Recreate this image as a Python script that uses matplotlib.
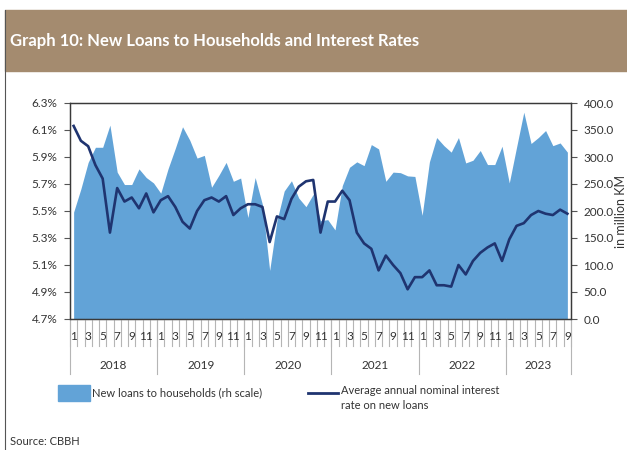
import numpy as np
import matplotlib.pyplot as plt
from matplotlib.patches import Rectangle
from matplotlib.lines import Line2D
from matplotlib.ticker import FuncFormatter

plt.rcParams['font.family'] = ['Lato', 'DejaVu Sans']

years = ["2018", "2019", "2020", "2021", "2022", "2023"]
months_per_year = [12, 12, 12, 12, 12, 9]

# new loans to households, million KM (Jan 2018 - Sep 2023)
new_loans = [198, 241, 290, 318, 318, 359, 272, 249, 249, 278, 262, 252,
             233, 278, 316, 356, 331, 298, 303, 244, 266, 290, 255, 261,
             188, 262, 212, 90, 182, 237, 256, 224, 208, 231, 182, 184,
             165, 247, 281, 291, 284, 323, 315, 255, 272, 271, 265, 264,
             192, 291, 336, 321, 309, 336, 289, 294, 312, 286, 286, 320,
             252, 318, 383, 325, 336, 349, 321, 326, 309]

# average annual nominal interest rate on new loans, %
interest_rate = [6.13, 6.02, 5.98, 5.84, 5.74, 5.34, 5.67, 5.57, 5.60, 5.52, 5.63, 5.49,
                 5.58, 5.61, 5.53, 5.42, 5.37, 5.50, 5.58, 5.60, 5.57, 5.61, 5.47, 5.52,
                 5.55, 5.55, 5.53, 5.27, 5.46, 5.44, 5.59, 5.68, 5.72, 5.73, 5.34, 5.57,
                 5.57, 5.65, 5.58, 5.34, 5.26, 5.22, 5.06, 5.17, 5.10, 5.04, 4.92, 5.01,
                 5.01, 5.06, 4.95, 4.95, 4.94, 5.10, 5.03, 5.13, 5.19, 5.23, 5.26, 5.13,
                 5.29, 5.39, 5.41, 5.47, 5.50, 5.48, 5.47, 5.51, 5.48]

W, H = 627, 450
AREA_COLOR = '#62A3D7'
LINE_COLOR = '#1F3470'
TEXT_COLOR = '#333333'
GRID_GRAY = '#B5B5B5'

fig = plt.figure(figsize=(W / 100, H / 100), dpi=100)

# header band with title
fig.patches.append(Rectangle((5 / W, 1 - 71 / H), 622 / W, 61 / H,
                             transform=fig.transFigure, color='#A48B6F', zorder=0))
fig.text(10 / W, 1 - 41 / H, "Graph 10: New Loans to Households and Interest Rates",
         color='white', fontsize=12, fontweight='bold', va='center', ha='left')
fig.lines.append(Line2D([5 / W, 5 / W], [0, 1 - 10 / H], transform=fig.transFigure,
                        color='#555555', lw=0.8))

ax = fig.add_axes([70 / W, 1 - 319 / H, 501 / W, 216 / H])
ax2 = ax.twinx()

x = np.arange(len(new_loans))
ax2.fill_between(x, 0, new_loans, color=AREA_COLOR, lw=0)
ax.plot(x, interest_rate, color=LINE_COLOR, lw=1.9)

# line axis above the area axis
ax.set_zorder(ax2.get_zorder() + 1)
ax.patch.set_visible(False)

ax.set_xlim(-0.5, len(new_loans) - 0.5)
ax.set_ylim(4.7, 6.3)
ax.set_yticks(np.arange(4.7, 6.31, 0.2))
ax.yaxis.set_major_formatter(FuncFormatter(lambda v, p: f"{v:.1f}%"))
ax2.set_ylim(0, 400)
ax2.set_yticks(np.arange(0, 401, 50))
ax2.yaxis.set_major_formatter(FuncFormatter(lambda v, p: f"{v:.1f}"))
ax2.set_ylabel("in million KM", fontsize=9, color=TEXT_COLOR, labelpad=1)

for a in (ax, ax2):
    a.tick_params(axis='y', direction='out', length=4, width=0.8, colors='#555555',
                  labelcolor=TEXT_COLOR, labelsize=8.5, pad=5)
    for s in a.spines.values():
        s.set_color('#3A3A3A')
        s.set_linewidth(0.9)
ax.set_xticks([])
ax2.set_xticks([])

# month tick marks and labels below the axis
trans = ax.get_xaxis_transform()
for b in np.arange(-0.5, len(new_loans), 1.0):
    ax.plot([b, b], [0, -0.127], transform=trans, color=GRID_GRAY, lw=0.8, clip_on=False)
i = 0
for yr, n in zip(years, months_per_year):
    for m in range(1, n + 1, 2):
        ax.text(i + m - 1, -0.083, str(m), transform=trans, ha='center', va='center',
                fontsize=8.5, color=TEXT_COLOR)
    ax.plot([i - 0.5, i - 0.5], [0, -0.255], transform=trans, color=GRID_GRAY, lw=0.8,
            clip_on=False)
    ax.text(i - 0.5 + n / 2, -0.213, yr, transform=trans, ha='center', va='center',
            fontsize=8.5, color=TEXT_COLOR)
    i += n
ax.plot([i - 0.5, i - 0.5], [0, -0.255], transform=trans, color=GRID_GRAY, lw=0.8,
        clip_on=False)

# legend
fig.patches.append(Rectangle((58 / W, 1 - 401 / H), 32 / W, 16 / H,
                             transform=fig.transFigure, color=AREA_COLOR))
fig.text(92 / W, 1 - 393 / H, "New loans to households (rh scale)", fontsize=8,
         color=TEXT_COLOR, va='center', ha='left')
fig.lines.append(Line2D([308 / W, 338 / W], [1 - 393 / H, 1 - 393 / H],
                        transform=fig.transFigure, color=LINE_COLOR, lw=2))
fig.text(341 / W, 1 - 385 / H, "Average annual nominal interest\nrate on new loans",
         fontsize=8, color=TEXT_COLOR, va='top', ha='left', linespacing=1.45)

fig.text(10 / W, 1 - 436 / H, "Source: CBBH", fontsize=8, color=TEXT_COLOR,
         va='top', ha='left')

fig.savefig('out.png', dpi=100)
